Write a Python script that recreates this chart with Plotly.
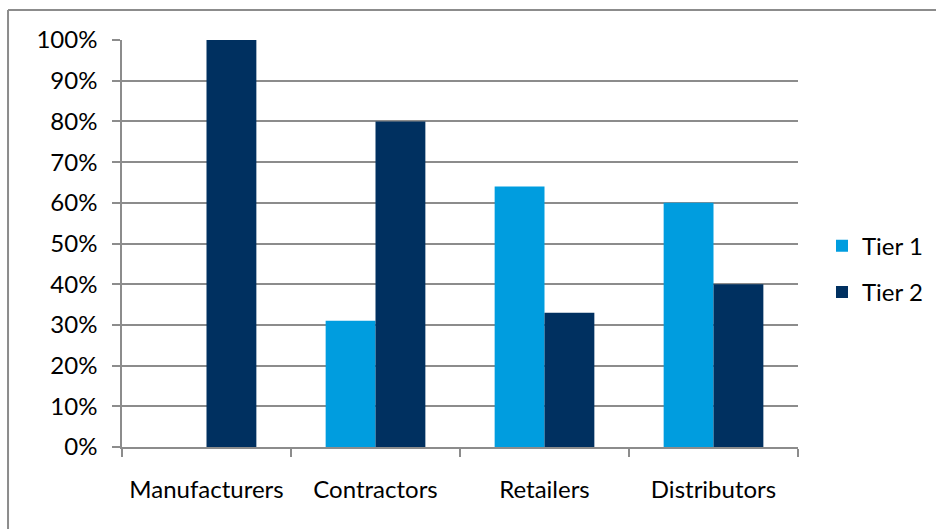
import plotly.graph_objects as go

categories = ["Manufacturers", "Contractors", "Retailers", "Distributors"]
tier1 = [0.0, 0.31, 0.64, 0.60]
tier2 = [1.00, 0.80, 0.33, 0.40]
y_ticks = [i / 10 for i in range(11)]
y_tick_labels = [f"{i * 10}%" for i in range(11)]

GRID = "#8c8c8c"
FONT = "Lato"
FSIZE = 24

fig = go.Figure()
fig.add_trace(go.Bar(name="Tier 1", x=categories, y=tier1,
                     marker=dict(color="#009ddf", line=dict(width=0)),
                     legendgroup="t1"))
fig.add_trace(go.Bar(name="Tier 2", x=categories, y=tier2,
                     marker=dict(color="#003060", line=dict(width=0)),
                     legendgroup="t2"))

fig.update_layout(
    width=936, height=529,
    margin=dict(l=122, r=138, t=40, b=82, autoexpand=False),
    paper_bgcolor="white", plot_bgcolor="white",
    barmode="group", bargap=0.41, bargroupgap=0,
    font=dict(family=FONT, size=FSIZE, color="#000000"),
    showlegend=True,
    legend=dict(x=1.0355, y=0.437, xanchor="left", yanchor="middle",
                font=dict(family=FONT, size=FSIZE), tracegroupgap=12,
                itemwidth=30, bgcolor="rgba(0,0,0,0)"),
    xaxis=dict(
        showgrid=False, showline=True, linecolor=GRID, linewidth=1.5,
        ticks="outside", ticklen=8, tickcolor=GRID, tickwidth=1.5,
        tickson="boundaries", ticklabelstandoff=20,
        tickfont=dict(family=FONT, size=FSIZE),
    ),
    yaxis=dict(
        range=[0, 1], tickvals=y_ticks, ticktext=y_tick_labels,
        showgrid=True, gridcolor=GRID, gridwidth=1.5,
        showline=True, linecolor=GRID, linewidth=1.5,
        ticks="outside", ticklen=8, tickcolor=GRID, tickwidth=1.5,
        ticklabelstandoff=10, zeroline=False,
        tickfont=dict(family=FONT, size=FSIZE),
    ),
    shapes=[
        # chart-area frame: top and left edges
        dict(type="line", xref="paper", yref="paper",
             x0=-0.1686, x1=1.3, y0=1.0737, y1=1.0737,
             line=dict(color="#8c8c8c", width=2)),
        dict(type="line", xref="paper", yref="paper",
             x0=-0.1686, x1=-0.1686, y0=1.0737, y1=-0.3,
             line=dict(color="#8c8c8c", width=2)),
    ],
)

fig.write_html("out.html")
